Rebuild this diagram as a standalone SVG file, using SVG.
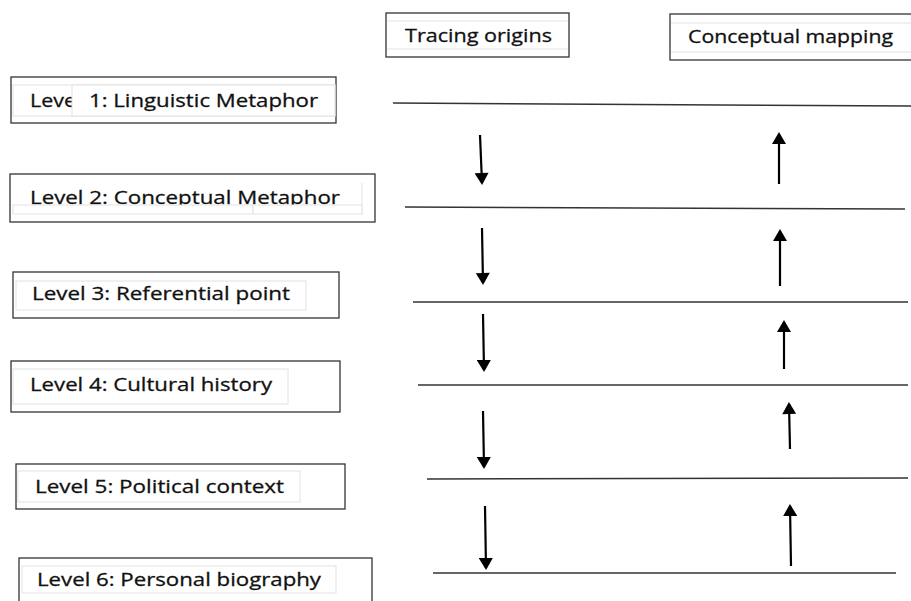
<svg xmlns="http://www.w3.org/2000/svg" width="911" height="601" viewBox="0 0 911 601">
<style>
.outer{fill:#fff;stroke:#333;stroke-width:1.3}
.inner{fill:#fff;stroke:#e2e2e2;stroke-width:1}
.faint{fill:none;stroke:#e2e2e2;stroke-width:1}
.lbl{font-family:"Open Sans","Liberation Sans",sans-serif;font-size:18.5px;fill:#111;stroke:#111;stroke-width:0.3}
.hl{stroke:#333;stroke-width:1.5;fill:none}
.arr{stroke:#000;stroke-width:2.2;fill:none;marker-end:url(#ah)}
</style>
<defs>
<marker id="ah" markerUnits="userSpaceOnUse" markerWidth="13" markerHeight="14" viewBox="0 0 12 14" refX="10" refY="7" orient="auto">
<path d="M0,0 L12,7 L0,14 z" fill="#000"/>
</marker>
</defs>
<rect width="911" height="601" fill="#fff"/>

<g id="tracing-origins">
<rect class="outer" x="386" y="13" width="183" height="44"/>
<line class="faint" x1="387" y1="21" x2="568" y2="21"/>
<line class="faint" x1="387" y1="49" x2="568" y2="49"/>
<text class="lbl" x="405" y="42" textLength="147" lengthAdjust="spacingAndGlyphs">Tracing origins</text>
</g>

<g id="conceptual-mapping">
<rect class="outer" x="670" y="14" width="250" height="46"/>
<line class="faint" x1="671" y1="23" x2="911" y2="23"/>
<line class="faint" x1="671" y1="52" x2="911" y2="52"/>
<text class="lbl" x="688" y="43" textLength="205" lengthAdjust="spacingAndGlyphs">Conceptual mapping</text>
</g>

<g id="level1">
<rect class="outer" x="11" y="77" width="325" height="46"/>
<rect class="faint" x="13" y="85" width="322" height="31"/>
<text class="lbl" x="30" y="107" textLength="46" lengthAdjust="spacingAndGlyphs">Leve</text>
<rect class="inner" x="72" y="85" width="263" height="31"/>
<text class="lbl" x="89" y="107" textLength="229" lengthAdjust="spacingAndGlyphs">1: Linguistic Metaphor</text>
</g>

<g id="level2">
<rect class="outer" x="10" y="174" width="365" height="48"/>
<line class="faint" x1="362" y1="183" x2="362" y2="215"/>
<text class="lbl" x="30" y="204" textLength="310" lengthAdjust="spacingAndGlyphs">Level 2: Conceptual Metaphor</text>
<rect class="inner" x="13" y="205" width="240" height="9"/>
<rect class="inner" x="253" y="205" width="109" height="9"/>
</g>

<g id="level3">
<rect class="outer" x="13" y="272" width="326" height="46"/>
<rect class="inner" x="16" y="281" width="290" height="29"/>
<text class="lbl" x="32" y="300" textLength="258" lengthAdjust="spacingAndGlyphs">Level 3: Referential point</text>
</g>

<g id="level4">
<rect class="outer" x="11" y="361" width="329" height="51"/>
<rect class="inner" x="13" y="369" width="275" height="35"/>
<text class="lbl" x="30" y="391" textLength="242" lengthAdjust="spacingAndGlyphs">Level 4: Cultural history</text>
</g>

<g id="level5">
<rect class="outer" x="16" y="464" width="329" height="45"/>
<rect class="inner" x="18" y="471" width="282" height="31"/>
<text class="lbl" x="35" y="493" textLength="249" lengthAdjust="spacingAndGlyphs">Level 5: Political context</text>
</g>

<g id="level6">
<rect class="outer" x="19" y="558" width="353" height="60"/>
<rect class="inner" x="22" y="566" width="314" height="27"/>
<text class="lbl" x="37" y="586" textLength="284" lengthAdjust="spacingAndGlyphs">Level 6: Personal biography</text>
</g>

<g id="connectors">
<line class="hl" x1="393" y1="103" x2="911" y2="106"/>
<line class="hl" x1="405" y1="207" x2="905" y2="209"/>
<line class="hl" x1="413" y1="302" x2="908" y2="302"/>
<line class="hl" x1="418" y1="385" x2="908" y2="385"/>
<line class="hl" x1="427" y1="479" x2="908" y2="478"/>
<line class="hl" x1="433" y1="573" x2="896" y2="573"/>

<line class="arr" x1="480" y1="135" x2="482" y2="183"/>
<line class="arr" x1="482" y1="228" x2="483" y2="283"/>
<line class="arr" x1="483" y1="314" x2="484" y2="370"/>
<line class="arr" x1="483" y1="411" x2="484" y2="467"/>
<line class="arr" x1="485" y1="506" x2="486" y2="568"/>

<line class="arr" x1="779" y1="184" x2="779" y2="134"/>
<line class="arr" x1="780" y1="286" x2="780" y2="231"/>
<line class="arr" x1="784" y1="369" x2="784" y2="322"/>
<line class="arr" x1="790" y1="449" x2="789" y2="404"/>
<line class="arr" x1="791" y1="566" x2="790" y2="506"/>
</g>
</svg>
